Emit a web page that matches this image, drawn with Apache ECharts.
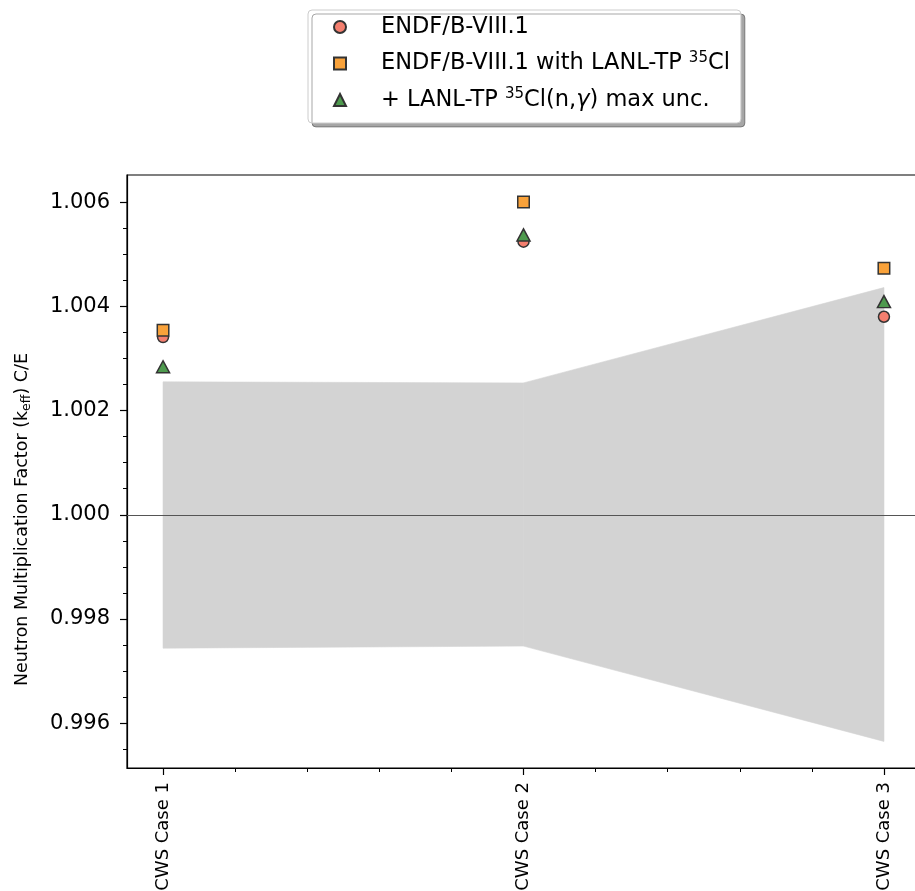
<!DOCTYPE html>
<html>
<head>
<meta charset="utf-8">
<script src="https://cdn.jsdelivr.net/npm/echarts@6/dist/echarts.min.js"></script>
<style>
  html, body { margin: 0; padding: 0; background: #fff; }
  #chart { width: 915px; height: 891px; }
</style>
</head>
<body>
<div id="chart"></div>
<script>
// data
const cases = ['CWS Case 1', 'CWS Case 2', 'CWS Case 3'];
const caseX = [0, 1, 2];
const endf = [1.00341, 1.00524, 1.00380];
const lanl = [1.00354, 1.00600, 1.00473];
const maxUnc = [1.00284, 1.00537, 1.00409];
const bandLow = [0.99744, 0.99748, 0.99565];
const bandHigh = [1.00255, 1.00253, 1.00436];

const yMajor = [0.996, 0.998, 1.000, 1.002, 1.004, 1.006];
const yMinor = [0.9955, 0.9965, 0.997, 0.9975, 0.9985, 0.999, 0.9995, 1.0005, 1.001, 1.0015,
                1.0025, 1.003, 1.0035, 1.0045, 1.005, 1.0055];
const xMinor = [0.2, 0.4, 0.6, 0.8, 1.2, 1.4, 1.6, 1.8];

const names = ['ENDF/B-VIII.1', 'ENDF/B-VIII.1 with LANL-TP 35Cl', '+ LANL-TP 35Cl(n,γ) max unc.'];
const legendRich = {
  'ENDF/B-VIII.1': '{gap|}ENDF/B-VIII.1',
  'ENDF/B-VIII.1 with LANL-TP 35Cl': '{gap|}ENDF/B-VIII.1 with LANL-TP {sup|35}Cl',
  '+ LANL-TP 35Cl(n,γ) max unc.': '{gap|}+ LANL-TP {sup|35}Cl(n,{it|γ}) max unc.'
};

const font = 'DejaVu Sans';
const myChart = echarts.init(document.getElementById('chart'));

const markerStyle = (c) => ({ color: c, borderColor: '#333', borderWidth: 1.5, opacity: 1 });

myChart.setOption({
  animation: false,
  backgroundColor: '#fff',
  textStyle: { fontFamily: font },
  grid: {
    left: 127, top: 175, width: 793, bottom: 123,
    outerBoundsMode: 'none',
    containLabel: false,
    show: true, borderColor: '#000', borderWidth: 1.2, backgroundColor: 'transparent'
  },
  legend: {
    orient: 'vertical',
    left: 308, top: 10,
    padding: [4, 11, 10, 25],
    itemGap: 10.5,
    itemWidth: 12, itemHeight: 12,
    backgroundColor: '#fff',
    borderColor: '#ccc', borderWidth: 1, borderRadius: 4,
    shadowColor: 'rgba(0,0,0,0.35)', shadowBlur: 0.5, shadowOffsetX: 4, shadowOffsetY: 4,
    data: names,
    formatter: (n) => legendRich[n],
    textStyle: {
      fontFamily: font, fontSize: 22.5, color: '#000', lineHeight: 26,
      rich: {
        gap: { width: 30 },
        sup: { fontSize: 15, lineHeight: 14, verticalAlign: 'top' },
        it: { fontStyle: 'italic' }
      }
    }
  },
  xAxis: [{
    type: 'value', min: -0.1, max: 2.1, position: 'bottom',
    splitLine: { show: false },
    axisLine: { show: true, onZero: false, lineStyle: { color: '#000', width: 1.2 } },
    axisTick: { show: true, customValues: caseX, length: 7, lineStyle: { color: '#000', width: 1.2 } },
    axisLabel: {
      show: true, customValues: caseX, rotate: 90, margin: 14,
      fontSize: 18, color: '#000', fontFamily: font,
      formatter: (v) => cases[Math.round(v)]
    }
  }, {
    type: 'value', min: -0.1, max: 2.1, position: 'bottom',
    splitLine: { show: false },
    axisLine: { show: false, onZero: false },
    axisTick: { show: true, customValues: xMinor, length: 4, lineStyle: { color: '#000', width: 1 } },
    axisLabel: { show: false }
  }],
  yAxis: [{
    type: 'value', min: 0.99514, max: 1.00652, position: 'left',
    splitLine: { show: false },
    axisLine: { show: true, onZero: false, lineStyle: { color: '#000', width: 1.2 } },
    axisTick: { show: true, customValues: yMajor, length: 7, lineStyle: { color: '#000', width: 1.2 } },
    axisLabel: {
      show: true, customValues: yMajor, margin: 17,
      fontSize: 21, color: '#000', fontFamily: font,
      formatter: (v) => v.toFixed(3)
    },
    name: 'Neutron Multiplication Factor (k{sub|eff}) C/E',
    nameLocation: 'middle',
    nameGap: 94,
    nameTextStyle: {
      fontFamily: font, fontSize: 17.5, color: '#000', lineHeight: 22,
      padding: [0, 96, 0, 0],
      rich: { sub: { fontSize: 12.5, lineHeight: 12, verticalAlign: 'bottom' } }
    }
  }, {
    type: 'value', min: 0.99514, max: 1.00652, position: 'left',
    splitLine: { show: false },
    axisLine: { show: false, onZero: false },
    axisTick: { show: true, customValues: yMinor, length: 4, lineStyle: { color: '#000', width: 1 } },
    axisLabel: { show: false }
  }],
  series: [
    {
      name: 'band',
      type: 'custom',
      xAxisIndex: 0, yAxisIndex: 0,
      silent: true,
      z: 1,
      data: caseX.map((x, i) => [x, bandLow[i], bandHigh[i]]),
      encode: { x: 0, y: [1, 2] },
      renderItem: function (params, api) {
        const i = params.dataIndex;
        if (i >= caseX.length - 1) return null;
        const pts = [
          api.coord([caseX[i], bandLow[i]]),
          api.coord([caseX[i], bandHigh[i]]),
          api.coord([caseX[i + 1], bandHigh[i + 1]]),
          api.coord([caseX[i + 1], bandLow[i + 1]])
        ];
        return {
          type: 'polygon',
          shape: { points: pts },
          style: { fill: '#d3d3d3', stroke: '#d3d3d3', lineWidth: 0.6 }
        };
      },
      markLine: {
        silent: true, symbol: 'none', label: { show: false },
        lineStyle: { color: '#555', width: 1.2, type: 'solid' },
        data: [{ yAxis: 1.0 }]
      }
    },
    {
      name: names[0], type: 'scatter', symbol: 'circle', symbolSize: 11, z: 3,
      itemStyle: markerStyle('#f47f6f'),
      data: caseX.map((x, i) => [x, endf[i]])
    },
    {
      name: names[1], type: 'scatter', symbol: 'rect', symbolSize: 11.5, z: 4,
      itemStyle: markerStyle('#f9a23a'),
      data: caseX.map((x, i) => [x, lanl[i]])
    },
    {
      name: names[2], type: 'scatter', symbol: 'triangle', symbolSize: [13, 12], z: 5,
      itemStyle: markerStyle('#4e9a4e'),
      data: caseX.map((x, i) => [x, maxUnc[i]])
    }
  ]
});
</script>
</body>
</html>
